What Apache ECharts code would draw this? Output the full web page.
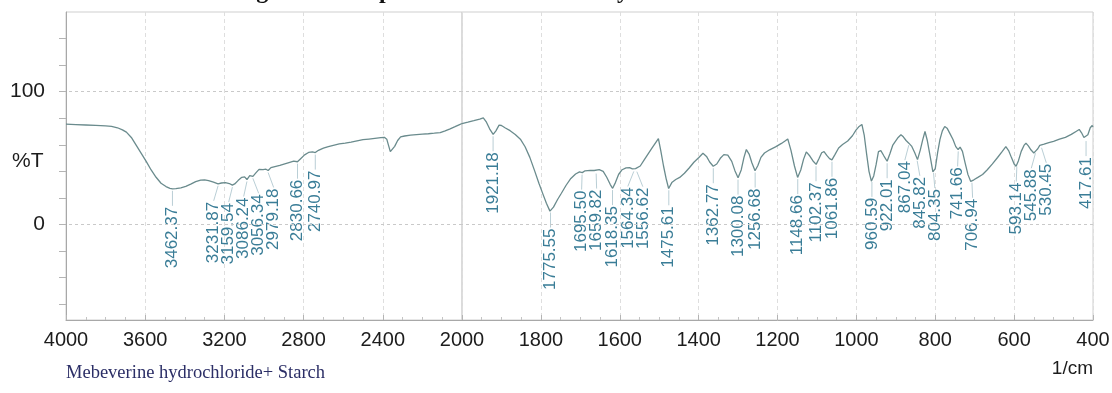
<!DOCTYPE html>
<html>
<head>
<meta charset="utf-8">
<script src="https://cdn.jsdelivr.net/npm/echarts@6/dist/echarts.min.js"></script>
<style>
html,body{margin:0;padding:0;background:#fff}
#chart{width:1112px;height:393px}
</style>
</head>
<body>
<div id="chart"></div>
<script>
// FTIR spectrum: wavenumber (1/cm) against transmittance (%T)
const wavenumbers = [
  4000,3950,3900,3850,3800,3770,3740,3715,3695,3670,3645,3620,3595,3570,3545,3520,3495,3475,3462,3445,
  3420,3395,3370,3345,3320,3300,3280,3255,3232,3215,3195,3175,3160,3148,3130,3112,3098,3086,3072,3056,
  3040,3025,3005,2990,2979,2965,2945,2920,2895,2870,2850,2831,2815,2795,2775,2755,2741,2725,2700,2675,
  2650,2620,2590,2560,2530,2500,2470,2440,2410,2392,2380,2370,2362,2352,2340,2325,2310,2290,2260,2230,
  2200,2170,2140,2110,2085,2060,2035,2015,2000,1985,1970,1955,1946,1938,1930,1921,1914,1906,1900,1890,
  1878,1865,1852,1840,1828,1816,1805,1795,1786,1777,1768,1758,1748,1736,1724,1712,1702,1695,1688,1675,
  1665,1660,1652,1642,1633,1624,1618,1611,1603,1594,1584,1575,1568,1564,1560,1556,1548,1538,1528,1518,
  1508,1502,1496,1489,1482,1476,1468,1458,1448,1436,1424,1412,1400,1389,1380,1372,1363,1354,1345,1336,
  1326,1316,1308,1300,1292,1285,1279,1272,1265,1257,1250,1242,1233,1220,1205,1190,1180,1174,1166,1157,
  1149,1141,1134,1127,1118,1110,1102,1095,1088,1082,1075,1068,1062,1054,1045,1035,1022,1010,1001,994,
  986,980,974,968,962,956,950,944,938,930,922,915,908,902,894,887,881,874,867,860,
  852,845,838,832,826,820,813,806,800,794,788,782,776,770,763,755,748,742,737,731,
  724,717,710,702,692,680,668,655,642,630,621,614,607,600,595,589,582,575,570,564,
  557,550,545,540,535,530,524,512,500,485,470,455,442,435,429,423,418,413,407,402,
  400
];
const transmittance = [
  75.5,75.2,74.9,74.6,74.2,73.9,72.8,71.2,69.5,65.5,59.5,53.5,47.5,41,35.5,31,28.5,27.2,26.8,26.9,
  27.6,28.6,30.3,32.2,33.4,33.6,33,31.8,30.6,31.2,31.5,30.8,29.6,30.5,33.2,35.5,35.8,33.8,36.8,36.2,
  39,41.5,41.2,41.6,40.6,42.8,43.6,44.4,45.6,46.8,47.6,47.2,49.5,52.4,54.2,54.6,54.1,55.8,57.4,58.6,
  59.6,60.6,61.2,62,62.9,63.8,64.3,64.8,65.3,65.6,64.2,59,54.8,55.6,58.8,63.2,66,66.6,67.2,67.6,
  68,68.3,68.7,69.2,70.5,72,73.6,75,76,77,78.1,79.3,80.2,77,72,67.8,70.5,74.8,74.5,72.6,
  70.6,67.8,64.2,58.5,50.5,40.5,31,23,16,10,13,18.6,23.5,29.5,34.6,38,39.6,39,40.4,40.7,
  40.6,39.8,41.2,40,35.5,30,27.2,31.5,37.6,41.2,42.6,42.8,41.9,41.4,42,41.1,44,48.6,53.2,57.6,
  62,64.6,55.5,44,34,27,31.5,33.8,35.4,38.5,42.5,46.8,50.2,53.6,51.2,47,43.8,45.5,49.8,52.6,
  52.2,47.5,40.5,35.2,41,50.5,56.4,53,46.5,40.4,44.2,50.5,53.8,56.2,58.4,61,63,64.4,56,44,
  35.4,41,49,54.6,51.5,47.8,45.2,49.5,54,54.8,52,49.6,48.6,52.8,57.6,60.2,62.8,66.8,71,73.5,
  75.3,67,53,40,32.6,36.5,45,54.8,55.6,51.5,47.6,53.2,59.5,62.2,65.5,67.6,66,63.2,61.2,59,
  54,48.8,56,63.5,70,63,51.5,39.5,42,54,64,70.5,73.8,72.5,68.6,64,58.6,56.4,58.2,55,
  46,37.5,32.4,33.6,35.4,37.6,41.2,45.6,50.4,55,58.6,55.6,50.5,45.5,43.8,48,55,59.5,61.2,59.2,
  56,53.8,55.4,57,59.5,59.2,60.5,61.6,62.6,64.2,65.6,67.8,70.2,71.5,69,65.5,64,67.5,72.8,74.5,
  73.5
];

// Annotated band positions (1/cm)
const peakWavenumbers = [
  3462.37, 3231.87, 3159.54, 3086.24, 3056.34, 2979.18, 2830.66, 2740.97,
  1921.18, 1775.55, 1695.50, 1659.82, 1618.35, 1564.34, 1556.62, 1475.61,
  1362.77, 1300.08, 1256.68, 1148.66, 1102.37, 1061.86, 960.59, 922.01,
  867.04, 845.82, 804.35, 741.66, 706.94, 593.14, 545.88, 530.45, 417.61
];

// Axis ticks and labels
const yTickValues = [-60, -40, -20, 0, 20, 40, 60, 80, 100, 120, 140];
const yLabelValues = [0, 100];
const yGuideValues = [0, 100];

const SANS = '"Liberation Sans", Arial, sans-serif';
const SERIF = '"Liberation Serif", "Times New Roman", serif';

// transmittance at any wavenumber
function tAt(wn) {
  for (let i = 1; i < wavenumbers.length; i++) {
    const a = wavenumbers[i - 1], b = wavenumbers[i];
    if (wn <= a && wn >= b) {
      const f = (a - wn) / (a - b);
      return transmittance[i - 1] + f * (transmittance[i] - transmittance[i - 1]);
    }
  }
  return transmittance[transmittance.length - 1];
}

const pairs = wavenumbers.map((w, i) => [w, transmittance[i]]);
const highRange = pairs.filter(p => p[0] >= 2000);
const lowRange = pairs.filter(p => p[0] <= 2000);

const peaks = peakWavenumbers.map(w => [w, tAt(w)]);
const highPeaks = peaks.filter(p => p[0] >= 2000);
const lowPeaks = peaks.filter(p => p[0] < 2000);

// push crowded label columns apart so the rotated texts do not overlap
function spread(xs, gap) {
  const order = xs.map((x, i) => i).sort((a, b) => xs[a] - xs[b]);
  const p = order.map(i => xs[i]);
  for (let it = 0; it < 300; it++) {
    let moved = false;
    for (let k = 1; k < p.length; k++) {
      const d = p[k] - p[k - 1];
      if (d < gap - 0.01) {
        const s = (gap - d) / 2;
        p[k - 1] -= s; p[k] += s; moved = true;
      }
    }
    if (!moved) break;
  }
  const out = [];
  order.forEach((i, k) => { out[i] = p[k]; });
  return out;
}

function peakRenderer(list) {
  return function (params, api) {
    const i = params.dataIndex;
    const xs = list.map(p => api.coord(p)[0]);
    const cols = spread(xs, 15);
    const pt = api.coord(list[i]);
    const lx = cols[i];
    const top = pt[1] + 18;
    return {
      type: 'group',
      children: [
        {
          type: 'line',
          shape: { x1: pt[0], y1: pt[1] + 2, x2: lx, y2: top - 1 },
          style: { stroke: '#a7c2ca', lineWidth: 0.8 }
        },
        {
          type: 'text',
          x: lx, y: top, rotation: Math.PI / 2,
          style: {
            text: list[i][0].toFixed(2),
            align: 'right', verticalAlign: 'middle',
            textAlign: 'right', textVerticalAlign: 'middle',
            fill: '#3a7d97',
            font: '17px ' + SANS
          }
        }
      ]
    };
  };
}

const gridBase = { top: 12, bottom: 73, show: true, borderColor: '#cfcfcf', borderWidth: 1, backgroundColor: 'transparent', outerBoundsMode: 'none' };

function xAxisFor(grid, min, max, interval, hideMax) {
  return {
    gridIndex: grid, type: 'value', min: min, max: max, interval: interval, inverse: true,
    axisLine: { show: true, onZero: false, lineStyle: { color: '#a8a8a8', width: 1 } },
    axisTick: { show: true, inside: true, length: 5, lineStyle: { color: '#b4b4b4' } },
    minorTick: { show: true, splitNumber: 4, length: 3, lineStyle: { color: '#c4c4c4' } },
    axisLabel: {
      show: true, margin: 10, color: '#1c1c1c', fontSize: 20, fontFamily: SANS,
      showMaxLabel: !hideMax, showMinLabel: true,
      formatter: v => String(v)
    },
    splitLine: { show: true, lineStyle: { color: '#dedede', type: [4, 3], width: 1 } },
    minorSplitLine: { show: false }
  };
}

const guideLines = {
  silent: true, symbol: 'none', animation: false,
  label: { show: false },
  lineStyle: { color: '#c9c9c9', type: [3, 3], width: 1 },
  data: yGuideValues.map(v => ({ yAxis: v }))
};

const traceStyle = { color: '#6a8b8d', width: 1.3 };

const option = {
  backgroundColor: '#ffffff',
  animation: false,
  grid: [
    Object.assign({ left: 66, width: 396 }, gridBase),
    Object.assign({ left: 462, width: 631 }, gridBase)
  ],
  xAxis: [
    xAxisFor(0, 2000, 4000, 400, false),
    xAxisFor(1, 400, 2000, 200, true)
  ],
  yAxis: [
    {
      gridIndex: 0, type: 'value', min: -72, max: 160,
      axisLine: { show: true, onZero: false, lineStyle: { color: '#a8a8a8', width: 1 } },
      axisTick: { show: true, inside: false, length: 7, customValues: yTickValues, lineStyle: { color: '#b4b4b4' } },
      axisLabel: { show: true, margin: 21, customValues: yLabelValues, color: '#1c1c1c', fontSize: 21, fontFamily: SANS, formatter: v => String(v) },
      splitLine: { show: false }
    },
    { gridIndex: 1, type: 'value', min: -72, max: 160, show: false, splitLine: { show: false } }
  ],
  series: [
    {
      type: 'line', xAxisIndex: 0, yAxisIndex: 0, data: highRange,
      symbol: 'none', lineStyle: traceStyle, itemStyle: { color: traceStyle.color },
      markLine: guideLines, z: 3
    },
    {
      type: 'line', xAxisIndex: 1, yAxisIndex: 1, data: lowRange,
      symbol: 'none', lineStyle: traceStyle, itemStyle: { color: traceStyle.color },
      markLine: guideLines, z: 3
    },
    {
      type: 'custom', xAxisIndex: 0, yAxisIndex: 0, data: highPeaks,
      encode: { x: 0, y: 1 }, clip: false, silent: true, z: 4,
      renderItem: peakRenderer(highPeaks)
    },
    {
      type: 'custom', xAxisIndex: 1, yAxisIndex: 1, data: lowPeaks,
      encode: { x: 0, y: 1 }, clip: false, silent: true, z: 4,
      renderItem: peakRenderer(lowPeaks)
    }
  ],
  graphic: [
    {
      type: 'text', x: 235, y: 4, silent: true,
      style: {
        text: 'Fig. 5: FTIR spectra of Mebeverine hydrochloride+ Starch',
        font: 'bold 24px ' + SERIF, fill: '#111',
        textAlign: 'left', textVerticalAlign: 'bottom', align: 'left', verticalAlign: 'bottom'
      }
    },
    {
      type: 'text', x: 12, y: 161, silent: true,
      style: {
        text: '%T', font: '21px ' + SANS, fill: '#1c1c1c',
        textAlign: 'left', textVerticalAlign: 'middle', align: 'left', verticalAlign: 'middle'
      }
    },
    {
      type: 'text', x: 66, y: 373, silent: true,
      style: {
        text: 'Mebeverine hydrochloride+ Starch', font: '18.5px ' + SERIF, fill: '#2b2e66',
        textAlign: 'left', textVerticalAlign: 'middle', align: 'left', verticalAlign: 'middle'
      }
    },
    {
      type: 'text', x: 1093, y: 369, silent: true,
      style: {
        text: '1/cm', font: '19px ' + SANS, fill: '#1c1c1c',
        textAlign: 'right', textVerticalAlign: 'middle', align: 'right', verticalAlign: 'middle'
      }
    }
  ]
};

const chart = echarts.init(document.getElementById('chart'), null, { renderer: 'canvas' });
chart.setOption(option);
</script>
</body>
</html>
